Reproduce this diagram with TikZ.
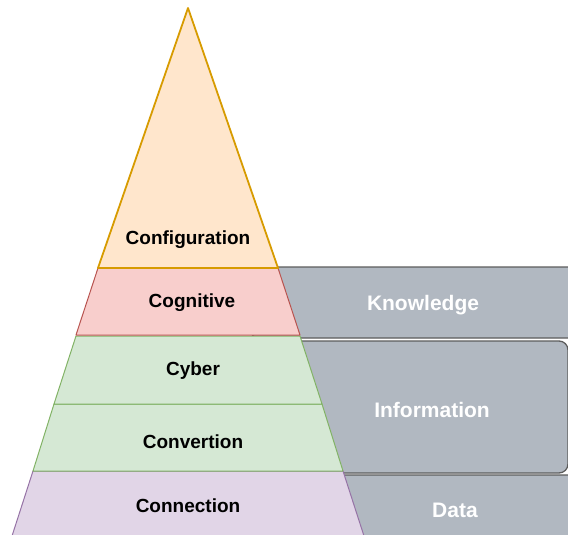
\documentclass[tikz,border=0pt]{standalone}
\usepackage{fontspec}
\setmainfont{Liberation Sans}
\usetikzlibrary{positioning}
\definecolor{confFill}{HTML}{FFE6CC}
\definecolor{confLine}{HTML}{D79B00}
\definecolor{cogFill}{HTML}{F8CECC}
\definecolor{cogLine}{HTML}{B85450}
\definecolor{cybFill}{HTML}{D5E8D4}
\definecolor{cybLine}{HTML}{82B366}
\definecolor{conFill}{HTML}{E1D5E7}
\definecolor{conLine}{HTML}{9673A6}
\definecolor{tagFill}{HTML}{B1B8C1}
\definecolor{tagLine}{HTML}{5C5C5C}

\begin{document}
\begin{tikzpicture}[x=1pt, y=-1pt,
    layer/.style={line width=1pt, line join=round},
    lbl/.style={font=\bfseries\fontsize{19}{22}\selectfont, text=black},
    tag/.style={draw=tagLine, fill=tagFill, line width=1.3pt, rounded corners=9pt},
    taglbl/.style={font=\bfseries\fontsize{21}{24}\selectfont, text=white}
  ]
  \useasboundingbox (0,0) rectangle (568,535);
  \clip (0,0) rectangle (568,535);

  % grey side tags, behind the pyramid
  \draw[tag] (250,267) rectangle (600,338);
  \draw[tag] (250,341) rectangle (568,473);
  \draw[tag] (250,475) rectangle (600,560);

  % pyramid layers
  \filldraw[layer, fill=conFill, draw=conLine] (33,471) -- (343,471) -- (364,536) -- (12,536) -- cycle;
  \filldraw[layer, fill=cybFill, draw=cybLine] (54,404) -- (322,404) -- (343,471) -- (33,471) -- cycle;
  \filldraw[layer, fill=cybFill, draw=cybLine] (76,336) -- (300,336) -- (322,404) -- (54,404) -- cycle;
  \filldraw[layer, fill=cogFill, draw=cogLine] (98,268) -- (278,268) -- (300,335) -- (76,335) -- cycle;
  \filldraw[layer, fill=confFill, draw=confLine, line width=1.8pt] (188,8) -- (278,268) -- (98,268) -- cycle;

  % labels
  \node[lbl] (config) at (188,240) {Configuration};
  \node[lbl] (cogn) at (192,303) {Cognitive};
  \node[lbl] (cyber) at (193,371) {Cyber};
  \node[lbl] (conv) at (193,442) {Convertion};
  \node[lbl] (conn) at (188,506) {Connection};

  \node[taglbl] (know) at (423,305) {Knowledge};
  \node[taglbl] (info) at (432,410) {Information};
  \node[taglbl] (data) at (455,510) {Data};
\end{tikzpicture}
\end{document}
